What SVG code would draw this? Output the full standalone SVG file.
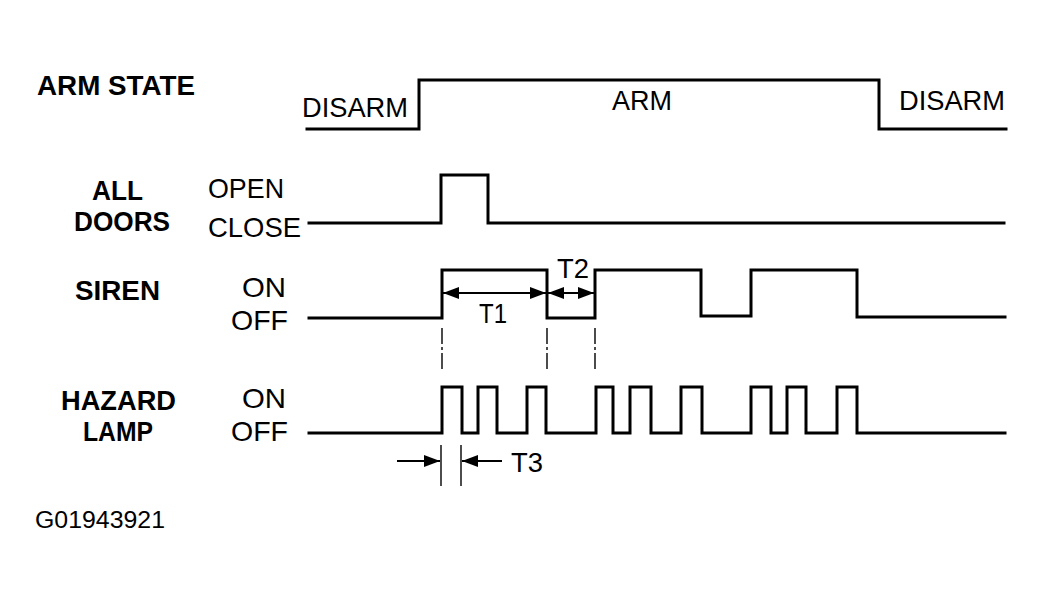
<svg xmlns="http://www.w3.org/2000/svg" width="1044" height="606" viewBox="0 0 1044 606">
<style>
.sig{fill:none;stroke:#000;stroke-width:3;stroke-linejoin:miter;stroke-linecap:square}
.dim{fill:none;stroke:#000;stroke-width:2}
.ext{fill:none;stroke:#000;stroke-width:1.4}
.dash{fill:none;stroke:#000;stroke-width:1.4;stroke-dasharray:16 3 3 3}
.lb{font-family:"Liberation Sans",Arial,sans-serif;font-weight:bold;font-size:27px;fill:#000}
.tx{font-family:"Liberation Sans",Arial,sans-serif;font-size:28px;fill:#000}
</style>
<defs>
<marker id="ah" viewBox="0 0 16 12" refX="16" refY="6" markerWidth="16" markerHeight="12" markerUnits="userSpaceOnUse" orient="auto-start-reverse">
<path d="M0,0 L16,6 L0,12 z" fill="#000"/>
</marker>
</defs>
<rect width="1044" height="606" fill="#fff"/>
<g id="arm-state">
<text class="lb" x="37" y="95" textLength="158" lengthAdjust="spacingAndGlyphs">ARM STATE</text>
<text class="tx" x="302" y="117" textLength="106" lengthAdjust="spacingAndGlyphs">DISARM</text>
<text class="tx" x="612" y="110" textLength="60" lengthAdjust="spacingAndGlyphs">ARM</text>
<text class="tx" x="899" y="110" textLength="106" lengthAdjust="spacingAndGlyphs">DISARM</text>
<path class="sig" d="M307,129 H419 V80 H879 V129 H1006"/>
</g>
<g id="all-doors">
<text class="lb" x="92" y="200" textLength="51" lengthAdjust="spacingAndGlyphs">ALL</text>
<text class="lb" x="74" y="231" textLength="96" lengthAdjust="spacingAndGlyphs">DOORS</text>
<text class="tx" x="208" y="198" textLength="76" lengthAdjust="spacingAndGlyphs">OPEN</text>
<text class="tx" x="208" y="237" textLength="93" lengthAdjust="spacingAndGlyphs">CLOSE</text>
<path class="sig" d="M309,223 H441 V175 H488 V223 H1004"/>
</g>
<g id="siren">
<text class="lb" x="75" y="300" textLength="85" lengthAdjust="spacingAndGlyphs">SIREN</text>
<text class="tx" x="242" y="297" textLength="44" lengthAdjust="spacingAndGlyphs">ON</text>
<text class="tx" x="231" y="330" textLength="57" lengthAdjust="spacingAndGlyphs">OFF</text>
<path class="sig" d="M309,318 H442 V270 H547 V318 H595 V270 H701 V316 H751 V270 H857 V317 H1005"/>
</g>
<g id="hazard-lamp">
<text class="lb" x="61" y="410" textLength="115" lengthAdjust="spacingAndGlyphs">HAZARD</text>
<text class="lb" x="83" y="441" textLength="70" lengthAdjust="spacingAndGlyphs">LAMP</text>
<text class="tx" x="242" y="408" textLength="44" lengthAdjust="spacingAndGlyphs">ON</text>
<text class="tx" x="231" y="441" textLength="57" lengthAdjust="spacingAndGlyphs">OFF</text>
<path class="sig" d="M309,433 H442 V387 H462 V433 H478 V387 H497 V433 H527 V387 H546 V433 H596 V387 H613 V433 H630 V387 H651 V433 H681 V387 H702 V433 H751 V387 H771 V433 H787 V387 H806 V433 H837 V387 H857 V433 H1005"/>
</g>
<g id="connectors">
<line class="dash" x1="442" y1="328" x2="442" y2="370"/>
<line class="dash" x1="547" y1="328" x2="547" y2="370"/>
<line class="dash" x1="595" y1="328" x2="595" y2="370"/>
<line class="dim" x1="443" y1="293" x2="546" y2="293" marker-start="url(#ah)" marker-end="url(#ah)"/>
<line class="dim" x1="548" y1="293" x2="594" y2="293" marker-start="url(#ah)" marker-end="url(#ah)"/>
<line class="ext" x1="441" y1="445" x2="441" y2="486"/>
<line class="ext" x1="461" y1="445" x2="461" y2="486"/>
<line class="dim" x1="397" y1="461" x2="440" y2="461" marker-end="url(#ah)"/>
<line class="dim" x1="502" y1="461" x2="462" y2="461" marker-end="url(#ah)"/>
</g>
<g id="dimension-labels">
<text class="tx" x="479" y="323" textLength="28" lengthAdjust="spacingAndGlyphs">T1</text>
<text class="tx" x="557" y="278" textLength="32" lengthAdjust="spacingAndGlyphs">T2</text>
<text class="tx" x="511" y="472" textLength="32" lengthAdjust="spacingAndGlyphs">T3</text>
</g>
<text class="tx" x="35" y="528" textLength="130" lengthAdjust="spacingAndGlyphs" style="font-size:23px">G01943921</text>
</svg>
